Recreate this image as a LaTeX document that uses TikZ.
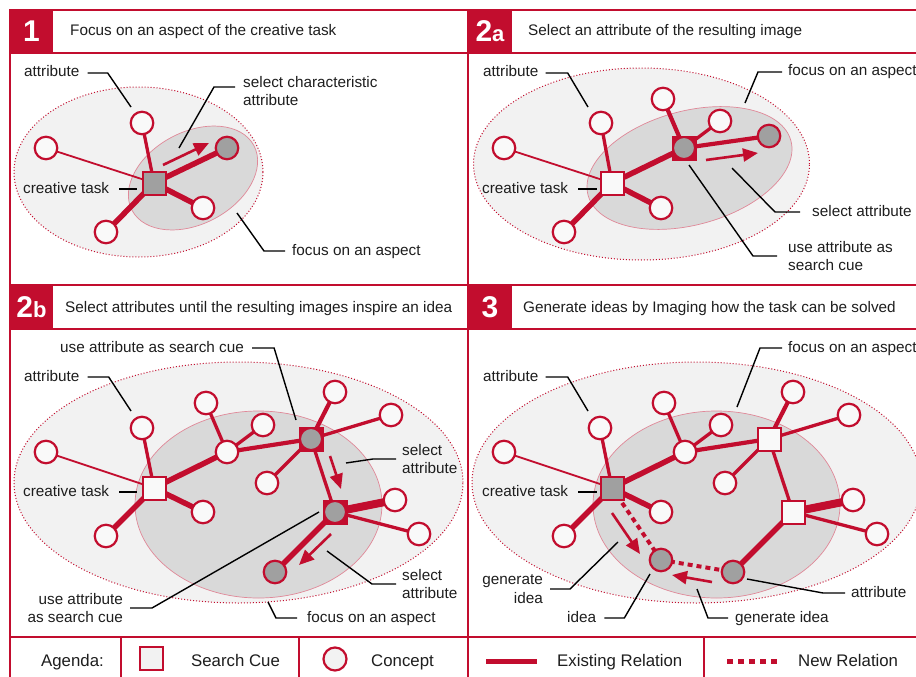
\documentclass[tikz,border=0pt]{standalone}
\usepackage{fontspec}
\setmainfont{Liberation Sans}
\usetikzlibrary{arrows.meta}

\definecolor{crim}{HTML}{C20D2E}
\definecolor{outerfill}{HTML}{F2F2F2}
\definecolor{innerfill}{HTML}{D9D9D9}
\definecolor{nodegray}{HTML}{A0A0A0}
\definecolor{conceptfill}{HTML}{F9F9F9}
\definecolor{innerline}{HTML}{E08898}
\definecolor{txt}{HTML}{1E1E1E}

\pgfdeclarelayer{paper}
\pgfdeclarelayer{shade}
\pgfdeclarelayer{links}
\pgfsetlayers{paper,shade,links,main}

\tikzset{
  frameline/.style={draw=crim, line width=1.2pt},
  numbox/.style={fill=crim, text=white, minimum width=43pt, minimum height=43pt,
    inner sep=0pt, font=\bfseries\fontsize{30}{30}\selectfont},
  head/.style={anchor=west, inner sep=0pt, text=txt, text height=11pt, text depth=3pt,
    font=\fontsize{15.3}{18}\selectfont},
  lbl/.style={anchor=west, inner sep=0pt, text=txt, text height=11pt, text depth=3pt,
    font=\fontsize{15.3}{18}\selectfont},
  lbltwo/.style={anchor=west, inner sep=0pt, text=txt, align=left,
    font=\fontsize{15.3}{18.5}\selectfont},
  legtext/.style={anchor=west, inner sep=0pt, text=txt, text height=12pt, text depth=3.3pt,
    font=\fontsize{16.8}{19}\selectfont},
  concept/.style={circle, draw=crim, line width=2.2pt, fill=conceptfill,
    minimum size=22.5pt, inner sep=0pt},
  attrsel/.style={concept, fill=nodegray},
  cue/.style={rectangle, draw=crim, line width=2pt, fill=conceptfill,
    minimum size=23pt, inner sep=0pt},
  cuegray/.style={cue, fill=nodegray},
  cuered/.style={cue, fill=crim},
  inset/.style={circle, fill=nodegray, draw=crim, line width=1pt,
    minimum size=21pt, inner sep=0pt},
  rthin/.style={draw=crim, line width=1.8pt},
  rmid/.style={draw=crim, line width=3.3pt},
  rmidplus/.style={draw=crim, line width=4.2pt},
  rthick/.style={draw=crim, line width=5.5pt},
  rheavy/.style={draw=crim, line width=8pt},
  rnew/.style={draw=crim, line width=4pt, dash pattern=on 5pt off 4pt},
  flowarrow/.style={draw=crim, line width=2.6pt, -{Triangle[length=15pt,width=13pt]}},
  leader/.style={draw=black, line width=1.4pt},
  outerzone/.style={fill=outerfill, draw=crim, line width=1pt, dash pattern=on 1pt off 2pt},
  innerzone/.style={fill=innerfill, draw=innerline, line width=0.7pt},
}

\begin{document}
\begin{tikzpicture}[x=1pt,y=-1pt]
\useasboundingbox (0,0) rectangle (916,677);
\begin{pgfonlayer}{paper}
  \fill[white] (0,0) rectangle (916,677);
\end{pgfonlayer}

% ---------------- grid of panels ----------------
\draw[frameline] (10,677) -- (10,10) -- (916,10);
\draw[frameline] (10,53) -- (916,53);
\draw[frameline] (10,285) -- (916,285);
\draw[frameline] (10,329) -- (916,329);
\draw[frameline] (10,637) -- (916,637);
\draw[frameline] (468,10) -- (468,677);
\draw[frameline] (121,637) -- (121,677);
\draw[frameline] (299,637) -- (299,677);
\draw[frameline] (704,637) -- (704,677);

% ---------------- headers ----------------
\node[numbox] (h1) at (31.5,31.5) {1};
\node[head] (h1t) at (70,32) {Focus on an aspect of the creative task};
\node[numbox, minimum width=44pt] (h2) at (490,31.5) {2{\fontsize{22}{22}\selectfont a}};
\node[head] (h2t) at (528,32) {Select an attribute of the resulting image};
\node[numbox, minimum width=43pt, minimum height=44pt] (h3) at (31.5,307) {2{\fontsize{22}{22}\selectfont b}};
\node[head] (h3t) at (65,308) {Select attributes until the resulting images inspire an idea};
\node[numbox, minimum width=44pt, minimum height=44pt] (h4) at (490,307) {3};
\node[head] (h4t) at (523,308) {Generate ideas by Imaging how the task can be solved};

% =============== 1: focus on an aspect ===============
\begin{pgfonlayer}{shade}
  \draw[outerzone] (138.5,172) ellipse [x radius=124.5pt, y radius=85pt];
  \draw[innerzone, rotate around={28:(193,178)}] (193,178) ellipse [x radius=69pt, y radius=46pt];
\end{pgfonlayer}
\node[cuegray] (p1t) at (154,183) {};
\node[concept] (p1a) at (142,123) {};
\node[concept] (p1b) at (46,148) {};
\node[attrsel] (p1c) at (227,148) {};
\node[concept] (p1d) at (203,208) {};
\node[concept] (p1e) at (106,232) {};
\begin{pgfonlayer}{links}
  \draw[rthin]  (p1t.center) -- (p1b.center);
  \draw[rmid]   (p1t.center) -- (p1a.center);
  \draw[rthick] (p1t.center) -- (p1c.center);
  \draw[rthick] (p1t.center) -- (p1d.center);
  \draw[rthick] (p1t.center) -- (p1e.center);
\end{pgfonlayer}
\coordinate (p1m0) at (163,165);
\coordinate (p1m1) at (209,143);
\draw[flowarrow] (p1m0) -- (p1m1);

\node[lbl] (p1l1) at (24,73) {attribute};
\coordinate (p1k1) at (131,107);
\draw[leader] ([xshift=8pt]p1l1.east) -- ++(20,0) -- (p1k1);
\node[lbltwo] (p1l2) at (243,91) {select characteristic\\attribute};
\coordinate (p1k2) at (179,148);
\draw[leader] ([xshift=-8pt,yshift=4pt]p1l2.west) -- ++(-21,0) -- (p1k2);
\node[lbl] (p1l3) at (23,189) {creative task};
\coordinate (p1k3) at (137,189);
\draw[leader] ([xshift=10pt]p1l3.east) -- (p1k3);
\node[lbl] (p1l4) at (292,251) {focus on an aspect};
\coordinate (p1k4) at (237,213);
\draw[leader] ([xshift=-7pt]p1l4.west) -- ++(-21,0) -- (p1k4);

% =============== 2a: select an attribute ===============
\begin{pgfonlayer}{shade}
  \draw[outerzone] (641.5,164) ellipse [x radius=168pt, y radius=96pt];
  \draw[innerzone, rotate around={15:(689.5,168)}] (689.5,168) ellipse [x radius=105pt, y radius=57pt];
\end{pgfonlayer}
\node[cue] (q1t) at (612,183) {};
\node[concept] (q1a) at (601,123) {};
\node[concept] (q1b) at (504,148) {};
\node[concept] (q1d) at (661,208) {};
\node[concept] (q1e) at (564,232) {};
\node[cuered] (q1s) at (684,148) {};
\node[inset] (q1si) at (q1s) {};
\node[concept] (q1f) at (663,99) {};
\node[concept] (q1g) at (720,121) {};
\node[attrsel] (q1h) at (769,136) {};
\begin{pgfonlayer}{links}
  \draw[rthin]    (q1t.center) -- (q1b.center);
  \draw[rmid]     (q1t.center) -- (q1a.center);
  \draw[rthick]   (q1t.center) -- (q1d.center);
  \draw[rthick]   (q1t.center) -- (q1e.center);
  \draw[rthick]   (q1t.center) -- (q1s.center);
  \draw[rmidplus] (q1s.center) -- (q1f.center);
  \draw[rmid]     (q1s.center) -- (q1g.center);
  \draw[rmidplus] (q1s.center) -- (q1h.center);
\end{pgfonlayer}
\coordinate (q1m0) at (706,160);
\coordinate (q1m1) at (758,153);
\draw[flowarrow] (q1m0) -- (q1m1);

\node[lbl] (q1l1) at (483,73) {attribute};
\coordinate (q1k1) at (588,107);
\draw[leader] ([xshift=7pt]q1l1.east) -- ++(22,0) -- (q1k1);
\node[lbl] (q1l2) at (788,72) {focus on an aspect};
\coordinate (q1k2) at (745,103);
\draw[leader] ([xshift=-6pt]q1l2.west) -- ++(-24,0) -- (q1k2);
\node[lbl] (q1l3) at (482,189) {creative task};
\coordinate (q1k3) at (597,189);
\draw[leader] ([xshift=10pt]q1l3.east) -- (q1k3);
\node[lbl] (q1l4) at (812,212) {select attribute};
\coordinate (q1k4) at (732,168);
\draw[leader] ([xshift=-12pt]q1l4.west) -- ++(-25,0) -- (q1k4);
\node[lbltwo] (q1l5) at (788,256) {use attribute as\\search cue};
\coordinate (q1k5) at (689,165);
\draw[leader] ([xshift=-11pt]q1l5.west) -- ++(-24,0) -- (q1k5);

% =============== 2b: select attributes repeatedly ===============
\begin{pgfonlayer}{shade}
  \draw[outerzone] (238.5,482.5) ellipse [x radius=224.5pt, y radius=120.5pt];
  \draw[innerzone] (258.5,504.5) ellipse [x radius=123.5pt, y radius=93.5pt];
\end{pgfonlayer}
\node[cue] (r1t) at (154,488) {};
\node[concept] (r1a) at (142,428) {};
\node[concept] (r1b) at (46,452) {};
\node[concept] (r1d) at (203,512) {};
\node[concept] (r1e) at (106,536) {};
\node[concept] (r1m) at (227,452) {};
\node[concept] (r1f) at (206,403) {};
\node[concept] (r1g) at (263,425) {};
\node[cuered] (r1s) at (311,439) {};
\node[inset] (r1si) at (r1s) {};
\node[concept] (r1h) at (335,392) {};
\node[concept] (r1i) at (391,415) {};
\node[concept] (r1j) at (267,483) {};
\node[cuered] (r1u) at (335,512) {};
\node[inset] (r1ui) at (r1u) {};
\node[concept] (r1k) at (395,500) {};
\node[concept] (r1l) at (419,534) {};
\node[attrsel] (r1n) at (275,572) {};
\begin{pgfonlayer}{links}
  \draw[rthin]    (r1t.center) -- (r1b.center);
  \draw[rmid]     (r1t.center) -- (r1a.center);
  \draw[rthick]   (r1t.center) -- (r1d.center);
  \draw[rthick]   (r1t.center) -- (r1e.center);
  \draw[rthick]   (r1t.center) -- (r1m.center);
  \draw[rmid]     (r1m.center) -- (r1f.center);
  \draw[rmid]     (r1m.center) -- (r1g.center);
  \draw[rmidplus] (r1m.center) -- (r1s.center);
  \draw[rmidplus] (r1s.center) -- (r1h.center);
  \draw[rmid]     (r1s.center) -- (r1i.center);
  \draw[rmid]     (r1s.center) -- (r1j.center);
  \draw[rmid]     (r1s.center) -- (r1u.center);
  \draw[rheavy]   (r1u.center) -- (r1k.center);
  \draw[rmid]     (r1u.center) -- (r1l.center);
  \draw[rthick]   (r1u.center) -- (r1n.center);
\end{pgfonlayer}
\coordinate (r1m0) at (330,456);
\coordinate (r1m1) at (341,489);
\draw[flowarrow] (r1m0) -- (r1m1);
\coordinate (r1m2) at (331,534);
\coordinate (r1m3) at (299,565);
\draw[flowarrow] (r1m2) -- (r1m3);

\node[lbl] (r1l1) at (60,348) {use attribute as search cue};
\coordinate (r1k1) at (296,420);
\draw[leader] ([xshift=8pt]r1l1.east) -- ++(22,0) -- (r1k1);
\node[lbl] (r1l2) at (24,377) {attribute};
\coordinate (r1k2) at (131,411);
\draw[leader] ([xshift=8pt]r1l2.east) -- ++(21,0) -- (r1k2);
\node[lbltwo] (r1l3) at (402,459) {select\\attribute};
\coordinate (r1k3) at (346,463);
\draw[leader] ([xshift=-6pt]r1l3.west) -- ++(-23,0) -- (r1k3);
\node[lbl] (r1l4) at (23,492) {creative task};
\coordinate (r1k4) at (137,492);
\draw[leader] ([xshift=10pt]r1l4.east) -- (r1k4);
\node[lbltwo] (r1l5) at (402,584) {select\\attribute};
\coordinate (r1k5) at (327,551);
\draw[leader] ([xshift=-6pt]r1l5.west) -- ++(-24,0) -- (r1k5);
\node[lbltwo, anchor=east, align=right] (r1l6) at (123,608) {use attribute\\as search cue};
\coordinate (r1k6) at (319,512);
\draw[leader] ([xshift=7pt]r1l6.east) -- ++(22,0) -- (r1k6);
\node[lbl] (r1l7) at (307,618) {focus on an aspect};
\coordinate (r1k7) at (268,602);
\draw[leader] ([xshift=-10pt]r1l7.west) -- ++(-21,0) -- (r1k7);

% =============== 3: generate ideas ===============
\begin{pgfonlayer}{shade}
  \draw[outerzone] (696.5,482.5) ellipse [x radius=224.5pt, y radius=120.5pt];
  \draw[innerzone] (716.5,504.5) ellipse [x radius=123.5pt, y radius=93.5pt];
\end{pgfonlayer}
\node[cuegray] (s1t) at (612,488) {};
\node[concept] (s1a) at (600,428) {};
\node[concept] (s1b) at (504,452) {};
\node[concept] (s1d) at (661,512) {};
\node[concept] (s1e) at (564,536) {};
\node[concept] (s1m) at (685,452) {};
\node[concept] (s1f) at (664,403) {};
\node[concept] (s1g) at (721,425) {};
\node[cue] (s1s) at (769,439) {};
\node[concept] (s1h) at (793,392) {};
\node[concept] (s1i) at (849,415) {};
\node[concept] (s1j) at (725,483) {};
\node[cue] (s1u) at (793,512) {};
\node[concept] (s1k) at (853,500) {};
\node[concept] (s1l) at (877,534) {};
\node[attrsel] (s1n) at (733,572) {};
\node[attrsel] (s1x) at (661,560) {};
\begin{pgfonlayer}{links}
  \draw[rthin]    (s1t.center) -- (s1b.center);
  \draw[rmid]     (s1t.center) -- (s1a.center);
  \draw[rthick]   (s1t.center) -- (s1d.center);
  \draw[rthick]   (s1t.center) -- (s1e.center);
  \draw[rthick]   (s1t.center) -- (s1m.center);
  \draw[rmid]     (s1m.center) -- (s1f.center);
  \draw[rmid]     (s1m.center) -- (s1g.center);
  \draw[rmidplus] (s1m.center) -- (s1s.center);
  \draw[rmidplus] (s1s.center) -- (s1h.center);
  \draw[rmid]     (s1s.center) -- (s1i.center);
  \draw[rmid]     (s1s.center) -- (s1j.center);
  \draw[rmid]     (s1s.center) -- (s1u.center);
  \draw[rheavy]   (s1u.center) -- (s1k.center);
  \draw[rmid]     (s1u.center) -- (s1l.center);
  \draw[rthick]   (s1u.center) -- (s1n.center);
  \draw[rnew]     (s1t.center) -- (s1x.center);
  \draw[rnew]     (s1x.center) -- (s1n.center);
\end{pgfonlayer}
\coordinate (s1m0) at (612,513);
\coordinate (s1m1) at (640,554);
\draw[flowarrow] (s1m0) -- (s1m1);
\coordinate (s1m2) at (712,582);
\coordinate (s1m3) at (672,575);
\draw[flowarrow] (s1m2) -- (s1m3);

\node[lbl] (s1l1) at (788,348) {focus on an aspect};
\coordinate (s1k1) at (737,407);
\draw[leader] ([xshift=-6pt]s1l1.west) -- ++(-22,0) -- (s1k1);
\node[lbl] (s1l2) at (483,377) {attribute};
\coordinate (s1k2) at (588,411);
\draw[leader] ([xshift=7pt]s1l2.east) -- ++(22,0) -- (s1k2);
\node[lbl] (s1l3) at (482,492) {creative task};
\coordinate (s1k3) at (597,492);
\draw[leader] ([xshift=10pt]s1l3.east) -- (s1k3);
\node[lbltwo, anchor=east, align=right] (s1l4) at (543,589) {generate\\idea};
\coordinate (s1k4) at (618,542);
\draw[leader] ([xshift=7pt]s1l4.east) -- ++(20,0) -- (s1k4);
\node[lbl] (s1l5) at (567,618) {idea};
\coordinate (s1k5) at (650,574);
\draw[leader] ([xshift=8pt]s1l5.east) -- ++(20,0) -- (s1k5);
\node[lbl] (s1l6) at (735,618) {generate idea};
\coordinate (s1k6) at (697,589);
\draw[leader] ([xshift=-7pt]s1l6.west) -- ++(-20,0) -- (s1k6);
\node[lbl] (s1l7) at (851,593) {attribute};
\coordinate (s1k7) at (747,579);
\draw[leader] ([xshift=-6pt]s1l7.west) -- ++(-22,0) -- (s1k7);

% ---------------- legend row ----------------
\node[legtext] (lg0) at (41,662) {Agenda:};
\node[cue, fill=outerfill] (lg1) at (151.5,658.5) {};
\node[legtext] (lg1t) at (191,662) {Search Cue};
\node[concept, fill=outerfill, minimum size=23pt] (lg2) at (335,659) {};
\node[legtext] (lg2t) at (371,662) {Concept};
\coordinate (lg3a) at (486,661);
\coordinate (lg3b) at (537,661);
\draw[draw=crim, line width=5pt] (lg3a) -- (lg3b);
\node[legtext] (lg3t) at (557,662) {Existing Relation};
\coordinate (lg4a) at (727,661);
\coordinate (lg4b) at (777,661);
\draw[draw=crim, line width=5pt, dash pattern=on 6pt off 5pt] (lg4a) -- (lg4b);
\node[legtext] (lg4t) at (798,662) {New Relation};
\end{tikzpicture}
\end{document}
